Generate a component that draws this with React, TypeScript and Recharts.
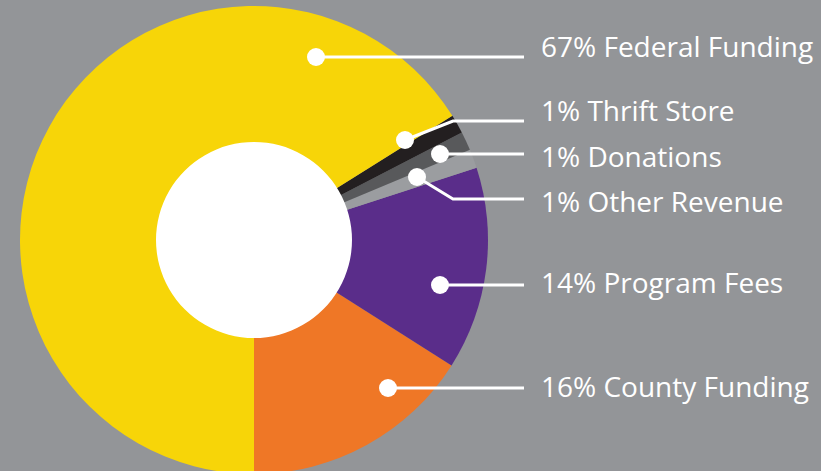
import { Cell, Pie, PieChart } from "recharts"

// slices in drawing order, counter-clockwise from 6 o'clock
const sources = ["County Funding", "Program Fees", "Other Revenue", "Donations", "Thrift Store", "Federal Funding"]
const shares = [16, 14, 1.3, 1.3, 1.3, 66.1]
const percentLabels = ["16%", "14%", "1%", "1%", "1%", "67%"]

const colors = ["#ef7726", "#5a2d8a", "#9b9da0", "#58595b", "#231f20", "#f7d508"]

// callout layout: dot offset from pie centre, optional elbow x, line y, text baseline
const callouts = [
  { dx: 134, dy: 148, elbowX: null, lineY: 388, textY: 397 },
  { dx: 186, dy: 45, elbowX: null, lineY: 285, textY: 293 },
  { dx: 163, dy: -63, elbowX: 453, lineY: 199, textY: 212 },
  { dx: 186, dy: -86, elbowX: null, lineY: 154, textY: 167 },
  { dx: 151, dy: -100, elbowX: 453, lineY: 121, textY: 121 },
  { dx: 62, dy: -183, elbowX: null, lineY: 57, textY: 57 },
]

const data = sources.map((name, i) => ({ name, value: shares[i], pct: percentLabels[i] }))
const hole = [{ name: "hole", value: 1 }]

const LINE_END = 524
const TEXT_X = 541

function Callout(props: any) {
  const { cx, cy, index } = props
  const c = callouts[index]
  const x = cx + c.dx
  const y = cy + c.dy
  const pts = c.elbowX != null
    ? `${x},${y} ${c.elbowX},${c.lineY} ${LINE_END},${c.lineY}`
    : `${x},${y} ${LINE_END},${c.lineY}`
  return (
    <g>
      <polyline points={pts} fill="none" stroke="#fff" strokeWidth={3} />
      <circle cx={x} cy={y} r={9} fill="#fff" />
      <text x={TEXT_X} y={c.textY} fill="#fff" fontSize={28} fontFamily="'Open Sans', sans-serif">
        {`${data[index].pct} ${data[index].name}`}
      </text>
    </g>
  )
}

export default function App() {
  return (
    <div style={{ position: "fixed", left: 0, top: 0, width: 821, height: 471, background: "#939598" }}>
      <PieChart width={821} height={471} margin={{ top: 0, right: 0, bottom: 0, left: 0 }}>
        <Pie
          data={data}
          dataKey="value"
          nameKey="name"
          cx={254}
          cy={240}
          outerRadius={234}
          startAngle={-90}
          endAngle={270}
          stroke="none"
          label={Callout}
          labelLine={false}
          isAnimationActive={false}
        >
          {data.map((_, i) => (
            <Cell key={`cell-${i}`} fill={colors[i]} stroke="none" />
          ))}
        </Pie>
        <Pie
          data={hole}
          dataKey="value"
          cx={254}
          cy={240}
          outerRadius={98}
          fill="#fff"
          stroke="none"
          isAnimationActive={false}
        />
      </PieChart>
    </div>
  )
}
